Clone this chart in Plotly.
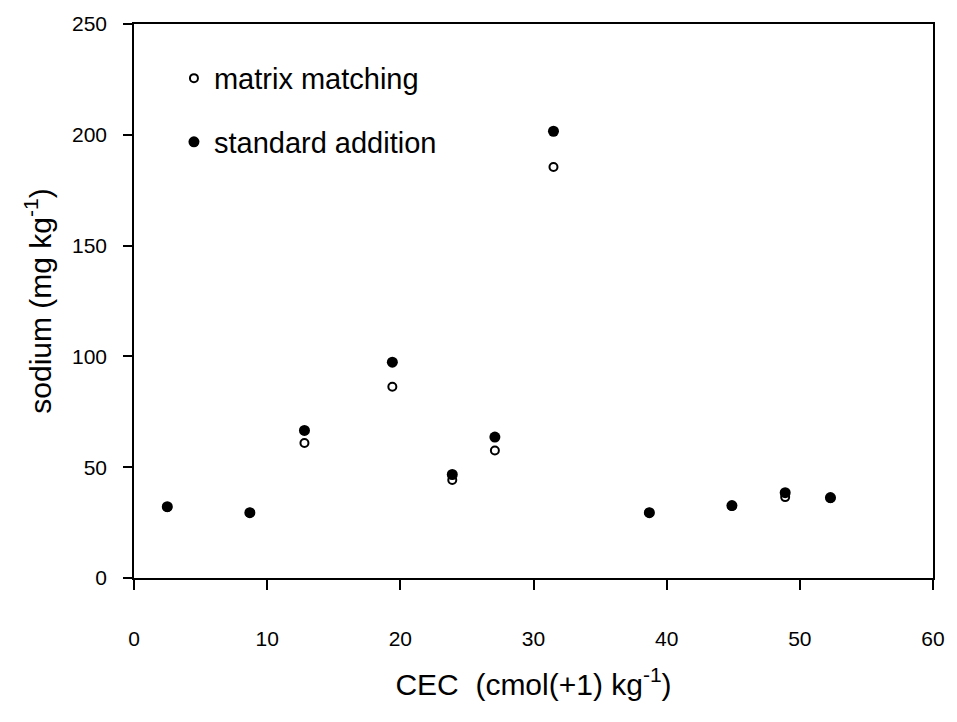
import plotly.graph_objects as go

# CEC (cmol(+1) kg-1) of each soil sample
cec = [2.5, 8.7, 12.8, 19.4, 23.9, 27.1, 31.5, 38.7, 44.9, 48.9, 52.3]
# sodium (mg kg-1) by matrix matching
matrix_matching = [32.0, 29.5, 60.9, 86.3, 44.2, 57.5, 185.5, 29.5, 32.5, 36.5, 36.0]
# sodium (mg kg-1) by standard addition
standard_addition = [32.2, 29.5, 66.6, 97.4, 46.7, 63.6, 201.6, 29.5, 32.7, 38.5, 36.3]

x_ticks = [0, 10, 20, 30, 40, 50, 60]
y_ticks = [0, 50, 100, 150, 200, 250]

FONT = "Liberation Sans, Arial, sans-serif"

fig = go.Figure()
fig.add_trace(go.Scatter(
    x=cec, y=matrix_matching, mode="markers", name="matrix matching",
    legendgroup="a",
    marker=dict(symbol="circle", size=8, color="white",
                line=dict(color="black", width=2)),
))
fig.add_trace(go.Scatter(
    x=cec, y=standard_addition, mode="markers", name="standard addition",
    legendgroup="b",
    marker=dict(symbol="circle", size=11, color="black",
                line=dict(color="black", width=0)),
))

axis_common = dict(
    showgrid=False, zeroline=False, showline=True, linecolor="black",
    linewidth=1.5, mirror=True, ticks="outside", tickcolor="black",
    tickwidth=1.5, tickfont=dict(family=FONT, size=21, color="black"),
)

fig.update_layout(
    width=957, height=722,
    margin=dict(l=134, r=17, t=19, b=144),
    paper_bgcolor="white", plot_bgcolor="white",
    font=dict(family=FONT, color="black"),
    xaxis=dict(range=[0, 60], tickvals=x_ticks, ticklen=10,
               ticklabelstandoff=31,
               title=dict(text="CEC  (cmol(+1) kg<sup>-1</sup>)",
                          font=dict(family=FONT, size=30, color="black"),
                          standoff=25),
               **axis_common),
    yaxis=dict(range=[0, 250], tickvals=y_ticks, ticklen=9,
               ticklabelstandoff=12,
               title=dict(text="sodium (mg kg<sup>-1</sup>)",
                          font=dict(family=FONT, size=30, color="black"),
                          standoff=12),
               **axis_common),
    showlegend=True,
    legend=dict(x=0.05, y=0.948, xanchor="left", yanchor="top",
                bgcolor="rgba(0,0,0,0)", borderwidth=0,
                font=dict(family=FONT, size=29, color="black"),
                tracegroupgap=23, itemsizing="trace"),
)

fig.write_html("out.html")
